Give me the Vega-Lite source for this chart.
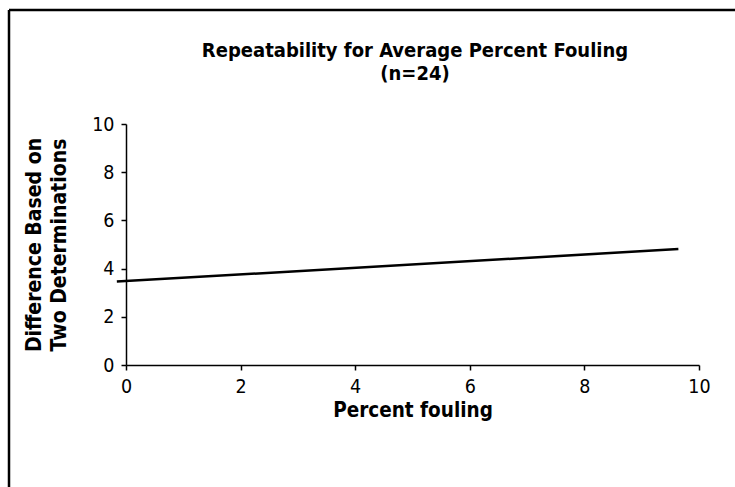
{
  "$schema": "https://vega.github.io/schema/vega-lite/v6.json",
  "autosize": {"type": "none"},
  "padding": {"left": 9, "top": 10, "right": 0, "bottom": 0},
  "width": 726,
  "height": 477,
  "background": "#ffffff",
  "config": {
    "font": "DejaVu Sans Condensed",
    "view": {"stroke": "#000000", "strokeWidth": 2.5, "strokeDash": [726, 1203, 477, 0]}
  },
  "title": {
    "text": ["Repeatability for Average Percent Fouling", "(n=24)"],
    "anchor": "middle",
    "frame": "group",
    "font": "DejaVu Sans Condensed",
    "fontSize": 20,
    "fontWeight": "bold",
    "color": "#000000",
    "lineHeight": 23,
    "dx": 43,
    "dy": 78
  },
  "data": {
    "values": [
      {"fouling": -0.16, "difference": 3.46},
      {"fouling": 9.64, "difference": 4.81}
    ]
  },
  "mark": {"type": "line", "color": "#000000", "strokeWidth": 2.5},
  "encoding": {
    "x": {
      "field": "fouling",
      "type": "quantitative",
      "scale": {"domain": [0, 10], "range": [117, 690], "nice": false, "zero": false},
      "axis": {
        "title": "Percent fouling",
        "values": [0, 2, 4, 6, 8, 10],
        "offset": -122,
        "grid": false,
        "labelFlush": false,
        "domainColor": "#000000",
        "domainWidth": 1.5,
        "tickColor": "#000000",
        "tickWidth": 1.5,
        "tickSize": 5,
        "labelFont": "DejaVu Sans Condensed",
        "labelFontSize": 19.5,
        "labelColor": "#000000",
        "labelPadding": 7,
        "titleFont": "DejaVu Sans Condensed",
        "titleFontSize": 20.5,
        "titleFontWeight": "bold",
        "titleColor": "#000000",
        "titlePadding": 5
      }
    },
    "y": {
      "field": "difference",
      "type": "quantitative",
      "scale": {"domain": [0, 10], "range": [355, 114], "nice": false, "zero": false},
      "axis": {
        "title": ["Difference Based on", "Two Determinations"],
        "values": [0, 2, 4, 6, 8, 10],
        "offset": -117,
        "grid": false,
        "domainColor": "#000000",
        "domainWidth": 1.5,
        "tickColor": "#000000",
        "tickWidth": 1.5,
        "tickSize": 5,
        "labelFont": "DejaVu Sans Condensed",
        "labelFontSize": 19.5,
        "labelColor": "#000000",
        "labelPadding": 7,
        "titleFont": "DejaVu Sans Condensed",
        "titleFontSize": 21,
        "titleFontWeight": "bold",
        "titleColor": "#000000",
        "titleLineHeight": 25,
        "titlePadding": 22
      }
    }
  }
}
